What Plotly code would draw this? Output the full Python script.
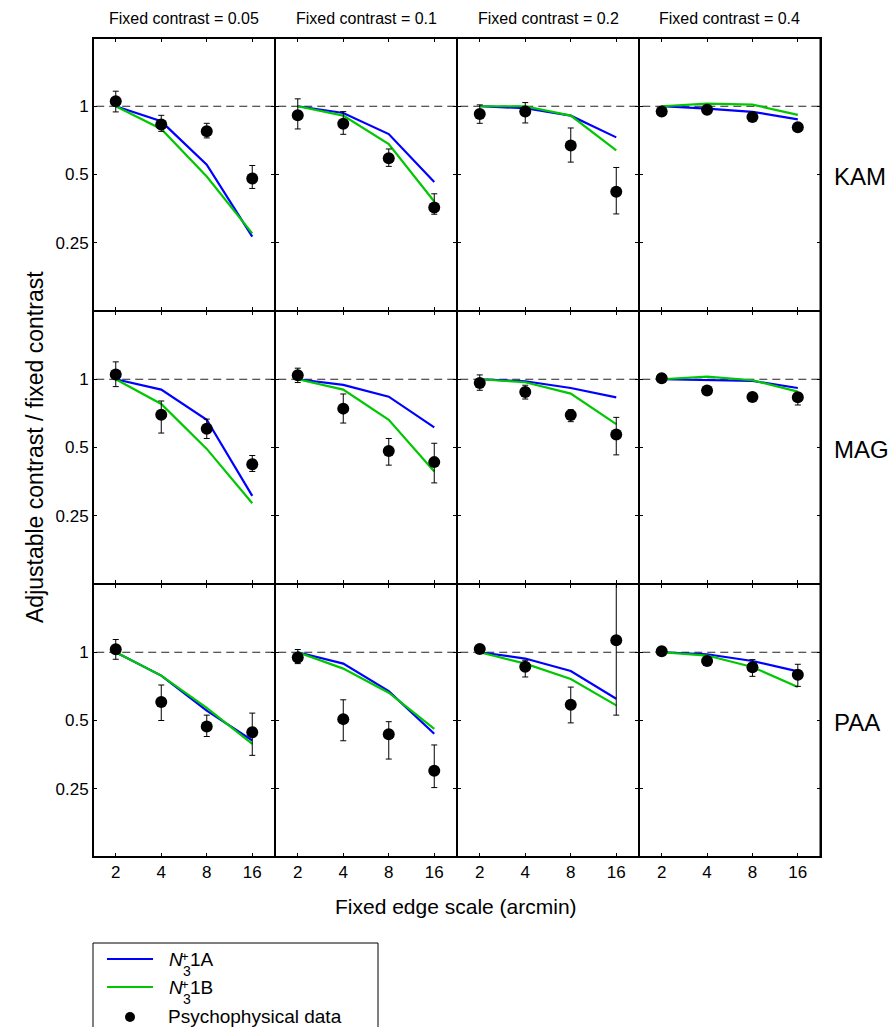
import plotly.graph_objects as go

W, H = 890, 1027

# ---------------- data ----------------
edge_scales = [2, 4, 8, 16]
x_tick_labels = ["2", "4", "8", "16"]
y_tick_vals = [0.25, 0.5, 1]
y_tick_labels = ["0.25", "0.5", "1"]
fixed_contrasts = ["0.05", "0.1", "0.2", "0.4"]
observers = ["KAM", "MAG", "PAA"]

# model N3+1A (blue), one list per fixed contrast
kam_model_a = [[1, 0.858, 0.552, 0.266], [1, 0.934, 0.754, 0.463], [1, 0.98, 0.909, 0.729], [1, 0.977, 0.945, 0.876]]
mag_model_a = [[1, 0.90, 0.663, 0.306], [1, 0.944, 0.838, 0.613], [1, 0.98, 0.915, 0.832], [1, 0.99, 0.983, 0.915]]
paa_model_a = [[1, 0.789, 0.553, 0.408], [1, 0.891, 0.674, 0.437], [1, 0.938, 0.827, 0.624], [1, 0.98, 0.915, 0.824]]

# model N3+1B (green)
kam_model_b = [[1, 0.794, 0.49, 0.275], [1, 0.909, 0.681, 0.38], [1, 1.0, 0.909, 0.639], [1, 1.028, 1.017, 0.916]]
mag_model_b = [[1, 0.778, 0.493, 0.284], [1, 0.90, 0.663, 0.392], [1, 0.97, 0.864, 0.634], [1, 1.027, 0.99, 0.882]]
paa_model_b = [[1, 0.789, 0.569, 0.394], [1, 0.847, 0.663, 0.459], [1, 0.891, 0.762, 0.583], [1, 0.967, 0.861, 0.702]]

# psychophysical data (mean, upper, lower)
kam_data = [[1.052, 0.83, 0.775, 0.48], [0.912, 0.838, 0.59, 0.358], [0.925, 0.947, 0.672, 0.42], [0.947, 0.964, 0.897, 0.807]]
kam_upper = [[1.165, 0.912, 0.841, 0.548], [1.078, 0.947, 0.648, 0.411], [1.014, 1.038, 0.802, 0.537], [0.947, 0.964, 0.897, 0.807]]
kam_lower = [[0.944, 0.775, 0.725, 0.434], [0.794, 0.752, 0.543, 0.334], [0.841, 0.844, 0.567, 0.335], [0.947, 0.964, 0.897, 0.807]]

mag_data = [[1.049, 0.698, 0.605, 0.422], [1.042, 0.742, 0.483, 0.431], [0.963, 0.879, 0.695, 0.571], [1.01, 0.891, 0.835, 0.832]]
mag_upper = [[1.193, 0.802, 0.667, 0.461], [1.119, 0.861, 0.548, 0.522], [1.045, 0.941, 0.734, 0.679], [1.01, 0.891, 0.835, 0.87]]
mag_lower = [[0.928, 0.579, 0.548, 0.392], [0.967, 0.641, 0.418, 0.349], [0.894, 0.818, 0.65, 0.464], [1.01, 0.891, 0.835, 0.77]]

paa_data = [[1.031, 0.603, 0.47, 0.444], [0.947, 0.507, 0.435, 0.30], [1.034, 0.864, 0.587, 1.13], [1.01, 0.915, 0.858, 0.796]]
paa_upper = [[1.138, 0.717, 0.528, 0.539], [1.028, 0.617, 0.494, 0.39], [1.034, 0.922, 0.702, 2.0], [1.01, 0.915, 0.928, 0.885]]
paa_lower = [[0.931, 0.50, 0.425, 0.351], [0.891, 0.407, 0.338, 0.253], [1.034, 0.778, 0.488, 0.528], [1.01, 0.915, 0.783, 0.707]]

reference_level = [1, 1]
reference_x = [1, 32]

model_a = [kam_model_a, mag_model_a, paa_model_a]
model_b = [kam_model_b, mag_model_b, paa_model_b]
obs_data = [kam_data, mag_data, paa_data]
obs_upper = [kam_upper, mag_upper, paa_upper]
obs_lower = [kam_lower, mag_lower, paa_lower]

# ---------------- layout geometry ----------------
col_edges = [93, 275, 457, 639, 820.5]
row_edges = [38, 311, 584, 857]
FONT = "Liberation Sans, Arial, sans-serif"
BLUE = "#0000ff"
GREEN = "#00c800"

fig = go.Figure()
layout = {}

for r in range(3):
    for c in range(4):
        k = r * 4 + c + 1
        xa = "x" if k == 1 else f"x{k}"
        ya = "y" if k == 1 else f"y{k}"
        # reference dashed line
        fig.add_trace(go.Scatter(x=reference_x, y=reference_level, mode="lines",
                                 line=dict(color="#222222", width=1, dash="8px,5px"),
                                 xaxis=xa, yaxis=ya, showlegend=False, hoverinfo="skip"))
        fig.add_trace(go.Scatter(x=edge_scales, y=model_a[r][c], mode="lines",
                                 line=dict(color=BLUE, width=2.2), xaxis=xa, yaxis=ya,
                                 showlegend=False))
        fig.add_trace(go.Scatter(x=edge_scales, y=model_b[r][c], mode="lines",
                                 line=dict(color=GREEN, width=2.2), xaxis=xa, yaxis=ya,
                                 showlegend=False))
        d = obs_data[r][c]
        up = [u - v for u, v in zip(obs_upper[r][c], d)]
        lo = [v - l for l, v in zip(obs_lower[r][c], d)]
        fig.add_trace(go.Scatter(x=edge_scales, y=d, mode="markers",
                                 marker=dict(color="black", size=12),
                                 error_y=dict(type="data", symmetric=False, array=up, arrayminus=lo,
                                              color="black", thickness=1, width=3),
                                 xaxis=xa, yaxis=ya, showlegend=False))

        xkey = "xaxis" if k == 1 else f"xaxis{k}"
        ykey = "yaxis" if k == 1 else f"yaxis{k}"
        layout[xkey] = dict(
            domain=[col_edges[c] / W, col_edges[c + 1] / W],
            anchor=ya, type="log", range=[0.1505, 1.3546],
            tickvals=edge_scales, ticktext=x_tick_labels,
            showticklabels=(r == 2), ticks="inside", ticklen=4, tickwidth=1, tickcolor="black",
            showline=True, linewidth=1, linecolor="black", mirror="ticks",
            showgrid=False, zeroline=False,
            tickfont=dict(family=FONT, size=17, color="black"),
        )
        layout[ykey] = dict(
            domain=[1 - row_edges[r + 1] / H, 1 - row_edges[r] / H],
            anchor=xa, type="log", range=[-0.90309, 0.30103],
            tickvals=y_tick_vals, ticktext=y_tick_labels,
            showticklabels=(c == 0), ticks="inside", ticklen=4, tickwidth=1, tickcolor="black",
            showline=True, linewidth=1, linecolor="black", mirror="ticks",
            showgrid=False, zeroline=False,
            tickfont=dict(family=FONT, size=17, color="black"),
        )


def px(xp):
    return xp / W


def py(yp):
    return 1 - yp / H


def note(x, y, text, size, xanchor="left", angle=0):
    return dict(x=px(x), y=py(y), xref="paper", yref="paper", text=text, showarrow=False,
                xanchor=xanchor, yanchor="middle", textangle=angle,
                font=dict(family=FONT, size=size, color="black"))


annotations = []
for c, fc in enumerate(fixed_contrasts):
    annotations.append(note((col_edges[c] + col_edges[c + 1]) / 2, 18, f"Fixed contrast = {fc}", 16, "center"))
for r, ob in enumerate(observers):
    annotations.append(note(832, (row_edges[r] + row_edges[r + 1]) / 2 + 2, ob, 24))
annotations.append(note(456, 906, "Fixed edge scale (arcmin)", 21, "center"))
annotations.append(note(35, 447, "Adjustable contrast / fixed contrast", 23, "center", -90))

# legend (manual) and outer frame
shapes = []
shapes.append(dict(type="rect", xref="paper", yref="paper", x0=px(col_edges[0]), x1=px(col_edges[-1]),
                   y0=py(row_edges[-1]), y1=py(row_edges[0]), line=dict(color="black", width=2)))
shapes.append(dict(type="rect", xref="paper", yref="paper", x0=px(93), x1=px(378), y0=py(1040), y1=py(943),
                   line=dict(color="black", width=1), fillcolor="white", layer="below"))
for yy, col in [(959, BLUE), (987, GREEN)]:
    shapes.append(dict(type="line", xref="paper", yref="paper", x0=px(107), x1=px(153), y0=py(yy), y1=py(yy),
                       line=dict(color=col, width=2)))
shapes.append(dict(type="circle", xref="paper", yref="paper", x0=px(125), x1=px(135), y0=py(1022), y1=py(1012),
                   fillcolor="black", line=dict(color="black", width=0)))

for yy, suffix in [(959, "1A"), (987, "1B")]:
    annotations.append(note(167, yy, "<i>N</i>", 19))
    annotations.append(note(178.5, yy - 3, "+", 13))
    annotations.append(note(180.5, yy + 12, "3", 14))
    annotations.append(note(188, yy, suffix, 19))
annotations.append(note(166, 1016, "Psychophysical data", 19))

fig.update_layout(
    width=W, height=H, autosize=False,
    margin=dict(l=0, r=0, t=0, b=0),
    paper_bgcolor="white", plot_bgcolor="white",
    showlegend=False,
    annotations=annotations, shapes=shapes,
    font=dict(family=FONT, color="black"),
    **layout,
)

fig.write_html("out.html", config={"displayModeBar": False},
               post_script="document.body.style.margin='0px';")
